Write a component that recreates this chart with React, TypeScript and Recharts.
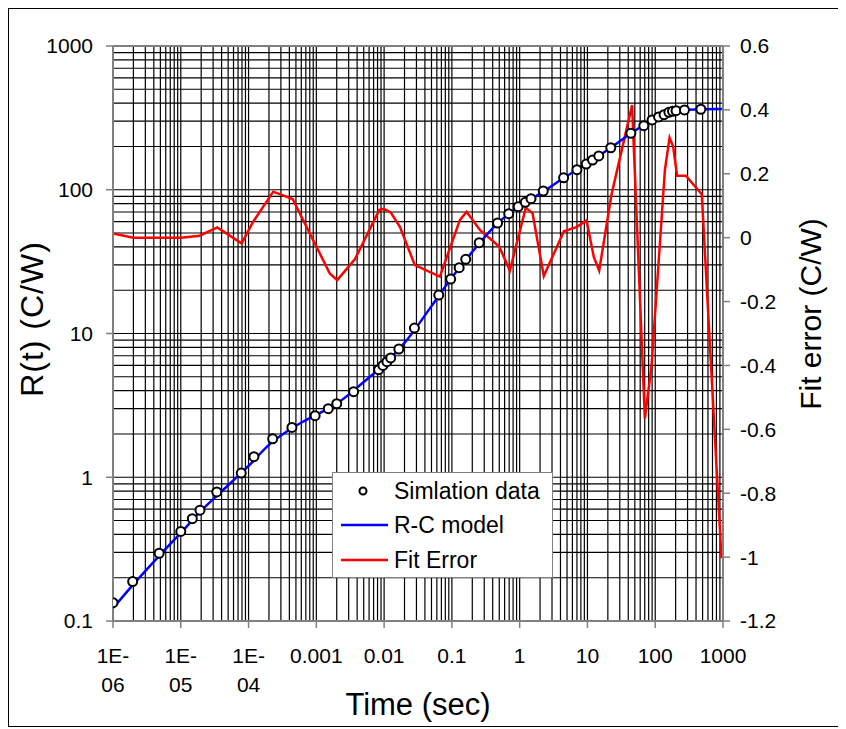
import React from 'react';
import { ComposedChart, XAxis, YAxis, CartesianGrid, Line, Scatter, ReferenceLine, Legend } from 'recharts';

const FONT = '"Liberation Sans", Arial, sans-serif';

// axis ticks
const X_TICKS = [1e-6, 1e-5, 1e-4, 1e-3, 0.01, 0.1, 1, 10, 100, 1000];
const X_TICK_LABELS = ['1E-06', '1E-05', '1E-04', '0.001', '0.01', '0.1', '1', '10', '100', '1000'];
const R_TICKS = [0.1, 1, 10, 100, 1000];
const ERR_TICKS = [-1.2, -1, -0.8, -0.6, -0.4, -0.2, 0, 0.2, 0.4, 0.6];

// log grid: 1..9 inside each decade
const STEPS = [1, 2, 3, 4, 5, 6, 7, 8, 9];
const X_GRID = X_TICKS.slice(0, -1).flatMap((d) => STEPS.map((k) => k * d)).concat([1000]);
const Y_GRID = R_TICKS.slice(0, -1).flatMap((d) => STEPS.map((k) => k * d)).concat([1000]);

// simulation data (circles)
const SIM_T = [1e-6, 1.95e-6, 4.8e-6, 1e-5, 1.48e-5, 1.92e-5, 3.4e-5, 7.8e-5, 1.2e-4, 2.27e-4, 4.36e-4, 9.6e-4, 1.5e-3, 2.0e-3, 3.55e-3, 8.3e-3, 9.6e-3, 0.011, 0.0125, 0.0165, 0.028, 0.064, 0.096, 0.128, 0.16, 0.253, 0.472, 0.69, 0.95, 1.21, 1.47, 2.23, 4.45, 6.99, 9.6, 11.9, 14.7, 22.1, 43.7, 67.9, 90, 112, 135, 159, 180, 203, 270, 471];
const SIM_R = [0.134, 0.188, 0.296, 0.42, 0.515, 0.59, 0.79, 1.07, 1.39, 1.85, 2.22, 2.68, 3.0, 3.25, 3.94, 5.6, 6.0, 6.37, 6.76, 7.8, 10.9, 18.5, 23.9, 28.7, 32.8, 42.8, 58.7, 68.1, 76.2, 81.8, 86.7, 98, 121, 138, 151, 161, 172, 196, 247, 279, 306, 321, 333, 346, 351, 355, 359, 363];

// R-C model curve
const MODEL_T = [1e-6, 2e-6, 5e-6, 1e-5, 2e-5, 5e-5, 1e-4, 2e-4, 5e-4, 1e-3, 2e-3, 5e-3, 0.01, 0.02, 0.05, 0.1, 0.2, 0.5, 1, 2, 5, 10, 20, 50, 100, 200, 500, 1000];
const MODEL_R = [0.123, 0.18, 0.29, 0.41, 0.585, 0.88, 1.2, 1.68, 2.28, 2.72, 3.25, 4.6, 6.1, 8.6, 15.5, 24.5, 37, 60, 77, 94, 125, 153, 190, 257, 314, 354, 363, 364];

// fit error (right axis)
const ERR_T = [1e-6, 2e-6, 1e-5, 1.9e-5, 3.45e-5, 7.9e-5, 1.17e-4, 2.31e-4, 4.47e-4, 1.58e-3, 2.03e-3, 3.7e-3, 8.5e-3, 9.9e-3, 0.0125, 0.0171, 0.0284, 0.0665, 0.131, 0.165, 0.259, 0.499, 0.717, 1.23, 1.55, 2.27, 4.49, 6.9, 9.7, 12.4, 14.9, 22.6, 45.6, 70.3, 88, 139, 163, 184, 210, 283, 486, 950];
const ERR_V = [0.013, 0.0, 0.0, 0.006, 0.032, -0.018, 0.05, 0.144, 0.121, -0.112, -0.133, -0.068, 0.087, 0.09, 0.079, 0.034, -0.086, -0.122, 0.055, 0.081, 0.024, -0.028, -0.103, 0.094, 0.076, -0.12, 0.02, 0.033, 0.054, -0.06, -0.103, 0.134, 0.415, -0.566, -0.404, 0.212, 0.313, 0.285, 0.194, 0.194, 0.136, -1.004];

const simData = SIM_T.map((t, i) => ({ t, r: SIM_R[i] }));
const modelData = MODEL_T.map((t, i) => ({ t, r: MODEL_R[i] }));
const errData = ERR_T.map((t, i) => ({ t, e: ERR_V[i] }));

const AXIS_GREY = '#808080';

function XTick(props: any) {
  const { x, y, payload } = props;
  const idx = X_TICKS.findIndex((v) => Math.abs(Math.log10(v) - Math.log10(payload.value)) < 1e-6);
  const label = X_TICK_LABELS[idx] ?? String(payload.value);
  const lines = label.startsWith('1E-') ? ['1E-', label.slice(3)] : [label];
  return (
    <text x={x} y={y} textAnchor="middle" fontSize={21} fontFamily={FONT} fill="#000">
      {lines.map((l, i) => (
        <tspan key={i} x={x} dy={i === 0 ? 33 : 29}>{l}</tspan>
      ))}
    </text>
  );
}

function XTitle(props: any) {
  const { x, y, width } = props.viewBox;
  return (
    <text x={x + width / 2} y={y + 94} textAnchor="middle" fontSize={31} fontFamily={FONT} fill="#000">
      Time (sec)
    </text>
  );
}

function LeftTitle() {
  return (
    <text x={0} y={0} transform="translate(34 310) rotate(-90)" textAnchor="middle" fontSize={32} letterSpacing={1} fontFamily={FONT} fill="#000">
      R(t) (C/W)
    </text>
  );
}

function RightTitle() {
  return (
    <text x={0} y={0} transform="translate(812 305) rotate(-90)" textAnchor="middle" fontSize={30} fontFamily={FONT} fill="#000">
      Fit error (C/W)
    </text>
  );
}

function LegendBox() {
  return (
    <svg width={221} height={106} style={{ display: 'block' }}>
      <rect x={0.5} y={0.5} width={220} height={105} fill="#fff" stroke={AXIS_GREY} />
      <circle cx={31} cy={19} r={3.5} fill="#fff" stroke="#000" strokeWidth={2} />
      <text x={62} y={27} fontSize={23} fontFamily={FONT} fill="#000">Simlation data</text>
      <line x1={9} x2={56} y1={53} y2={53} stroke="#0000ff" strokeWidth={2.5} />
      <text x={62} y={61} fontSize={23} fontFamily={FONT} fill="#000">R-C model</text>
      <line x1={9} x2={56} y1={88} y2={88} stroke="#ff0000" strokeWidth={2.5} />
      <text x={62} y={96} fontSize={23} fontFamily={FONT} fill="#000">Fit Error</text>
    </svg>
  );
}

export default function App() {
  return (
    <div style={{ width: 837, height: 719, border: '1px solid #000', boxSizing: 'border-box', position: 'relative', background: '#fff' }}>
      <ComposedChart width={835} height={717} margin={{ top: 37, right: 0, bottom: 0, left: 0 }}>
        <CartesianGrid
          stroke="#000"
          strokeWidth={1.2}
          verticalValues={X_GRID}
          horizontalValues={Y_GRID}
        />
        <XAxis
          dataKey="t"
          type="number"
          scale="log"
          domain={[1e-6, 1000]}
          allowDataOverflow
          ticks={X_TICKS}
          interval={0}
          height={105}
          tickSize={7}
          tickMargin={2}
          tick={<XTick />}
          tickLine={{ stroke: AXIS_GREY, strokeWidth: 1.5 }}
          axisLine={{ stroke: AXIS_GREY, strokeWidth: 2 }}
          label={<XTitle />}
        />
        <YAxis
          type="number"
          scale="log"
          domain={[0.1, 1000]}
          allowDataOverflow
          ticks={R_TICKS}
          interval={0}
          width={104}
          tickSize={7}
          tickMargin={13}
          tick={{ fill: '#000', fontSize: 21, fontFamily: FONT }}
          tickLine={{ stroke: AXIS_GREY, strokeWidth: 1.5 }}
          axisLine={{ stroke: AXIS_GREY, strokeWidth: 2 }}
          label={<LeftTitle />}
        />
        <YAxis
          yAxisId="right"
          orientation="right"
          type="number"
          domain={[-1.2, 0.6]}
          allowDataOverflow
          ticks={ERR_TICKS}
          interval={0}
          width={121}
          tickSize={7}
          tickMargin={10}
          tick={{ fill: '#000', fontSize: 21, fontFamily: FONT }}
          tickLine={{ stroke: AXIS_GREY, strokeWidth: 1.5 }}
          axisLine={{ stroke: AXIS_GREY, strokeWidth: 2 }}
          label={<RightTitle />}
        />
        <ReferenceLine y={1000} stroke={AXIS_GREY} strokeWidth={2} />
        <Line
          yAxisId="right"
          data={errData}
          dataKey="e"
          type="linear"
          stroke="#ff0000"
          strokeWidth={2.5}
          dot={false}
          isAnimationActive={false}
        />
        <Line
          data={modelData}
          dataKey="r"
          type="monotone"
          stroke="#0000ff"
          strokeWidth={2.5}
          dot={false}
          isAnimationActive={false}
        />
        <Scatter
          data={simData}
          dataKey="r"
          isAnimationActive={false}
          shape={(p: any) => <circle cx={p.cx} cy={p.cy} r={4.5} fill="#fff" stroke="#000" strokeWidth={2} />}
        />
        <Legend
          layout="vertical"
          align="center"
          verticalAlign="middle"
          wrapperStyle={{ left: 323, top: 463, width: 221, bottom: 'auto' }}
          content={() => <LegendBox />}
        />
      </ComposedChart>
    </div>
  );
}
